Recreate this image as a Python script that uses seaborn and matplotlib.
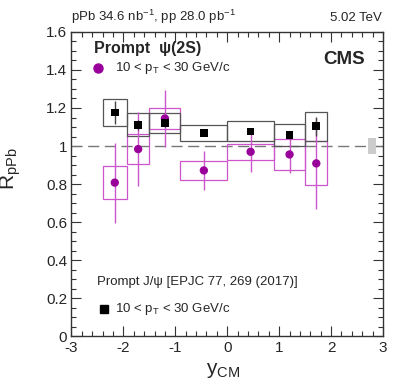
import numpy as np
import pandas as pd
import matplotlib
matplotlib.use("Agg")
import matplotlib.pyplot as plt
from matplotlib.patches import Rectangle
from matplotlib.ticker import MultipleLocator, FuncFormatter
import seaborn as sns

# rapidity bins (centre of mass frame)
bin_lo = [-2.4, -1.93, -1.5, -0.9, 0.0, 0.9, 1.5]
bin_hi = [-1.93, -1.5, -0.9, 0.0, 0.9, 1.5, 1.93]

# prompt psi(2S), 10 < pT < 30 GeV/c
psi2s_r = [0.808, 0.984, 1.145, 0.872, 0.970, 0.956, 0.909]
psi2s_stat = [0.21, 0.195, 0.15, 0.104, 0.105, 0.10, 0.24]
psi2s_syst = [0.087, 0.079, 0.053, 0.048, 0.043, 0.083, 0.115]

# prompt J/psi, 10 < pT < 30 GeV/c  [EPJC 77, 269 (2017)]
jpsi_r = [1.177, 1.112, 1.120, 1.068, 1.077, 1.058, 1.105]
jpsi_stat = [0.06, 0.025, 0.02, 0.015, 0.015, 0.02, 0.05]
jpsi_syst = [0.070, 0.061, 0.053, 0.043, 0.053, 0.056, 0.076]

# global uncertainty box at unity
global_x = 2.79
global_halfwidth = 0.08
global_unc = 0.042

purple = "#990099"
purple_light = "#cc55cc"

sns.set_theme(style="ticks")
plt.rcParams['font.family'] = ['Liberation Sans', 'DejaVu Sans']
plt.rcParams['mathtext.fontset'] = 'custom'
plt.rcParams['mathtext.rm'] = 'Liberation Sans'
plt.rcParams['mathtext.it'] = 'Liberation Sans'

centers = (np.array(bin_lo) + np.array(bin_hi)) / 2
df_psi = pd.DataFrame({"y": centers, "r": psi2s_r})
df_jpsi = pd.DataFrame({"y": centers, "r": jpsi_r})

fig = plt.figure(figsize=(3.99, 3.84), dpi=100)
ax = fig.add_axes([0.179, 0.124, 0.781, 0.793])

ax.axhline(1.0, color="#777777", lw=1.0, dashes=(8, 4), zorder=1)
ax.add_patch(Rectangle((global_x - global_halfwidth, 1 - global_unc), 2 * global_halfwidth,
                       2 * global_unc, facecolor="#cccccc", edgecolor="none", zorder=1))

# systematic boxes
for lo, hi, r, s in zip(bin_lo, bin_hi, psi2s_r, psi2s_syst):
    ax.add_patch(Rectangle((lo, r - s), hi - lo, 2 * s, fill=False,
                           edgecolor=purple_light, lw=0.9, zorder=2))
for lo, hi, r, s in zip(bin_lo, bin_hi, jpsi_r, jpsi_syst):
    ax.add_patch(Rectangle((lo, r - s), hi - lo, 2 * s, fill=False,
                           edgecolor="#555555", lw=0.9, zorder=3))

# statistical error bars
ax.errorbar(centers, psi2s_r, yerr=psi2s_stat, fmt="none", ecolor=purple_light,
            elinewidth=1.0, capsize=0, zorder=4)
ax.errorbar(centers, jpsi_r, yerr=jpsi_stat, fmt="none", ecolor="#444444",
            elinewidth=1.0, capsize=0, zorder=5)

sns.scatterplot(data=df_psi, x="y", y="r", ax=ax, marker="o", s=36, color=purple,
                edgecolor="none", zorder=6)
sns.scatterplot(data=df_jpsi, x="y", y="r", ax=ax, marker="s", s=30, color="black",
                edgecolor="none", zorder=7)

ax.set_xlim(-3, 3)
ax.set_ylim(0, 1.6)
ax.xaxis.set_major_locator(MultipleLocator(1))
ax.xaxis.set_minor_locator(MultipleLocator(0.2))
ax.yaxis.set_major_locator(MultipleLocator(0.2))
ax.yaxis.set_minor_locator(MultipleLocator(0.05))
ax.yaxis.set_major_formatter(FuncFormatter(lambda v, p: "%g" % round(v, 2)))
ax.xaxis.set_major_formatter(FuncFormatter(lambda v, p: "%g" % round(v, 2)))
ax.tick_params(which="both", direction="in", top=True, right=True, labelsize=11,
               width=0.8, color="#333333")
ax.tick_params(which="major", length=7, pad=3)
ax.tick_params(which="minor", length=3.5)
for sp in ax.spines.values():
    sp.set_linewidth(1.0)
    sp.set_color("#333333")

ax.set_xlabel(r"y$_{\mathrm{CM}}$", fontsize=15)
ax.set_ylabel(r"R$_{\mathrm{pPb}}$", fontsize=15)
ax.xaxis.set_label_coords(0.487, -0.08)
ax.yaxis.set_label_coords(-0.155, 0.55)

# header
fig.text(0.179, 0.955, r"pPb 34.6 nb$^{-1}$, pp 28.0 pb$^{-1}$", fontsize=9.5,
         ha="left", va="center")
fig.text(0.957, 0.953, "5.02 TeV", fontsize=9.5, ha="right", va="center")

# in-plot labels
ax.text(0.072, 0.947, "Prompt  \u03c8(2S)", transform=ax.transAxes, fontsize=11.5,
        fontweight="bold", ha="left", va="center")
ax.plot([0.085], [0.882], "o", color=purple, ms=6.5, transform=ax.transAxes)
ax.text(0.14, 0.882, r"10 < p$_{\mathrm{T}}$ < 30 GeV/c", transform=ax.transAxes,
        fontsize=9.5, ha="left", va="center")
ax.text(0.942, 0.908, "CMS", transform=ax.transAxes, fontsize=13.5,
        fontweight="bold", ha="right", va="center")
ax.text(0.082, 0.179, "Prompt J/\u03c8 [EPJC 77, 269 (2017)]", transform=ax.transAxes,
        fontsize=9.5, ha="left", va="center")
ax.plot([0.104], [0.09], "s", color="black", ms=5.5, transform=ax.transAxes)
ax.text(0.14, 0.09, r"10 < p$_{\mathrm{T}}$ < 30 GeV/c", transform=ax.transAxes,
        fontsize=9.5, ha="left", va="center")

fig.savefig("out.png", dpi=100)
